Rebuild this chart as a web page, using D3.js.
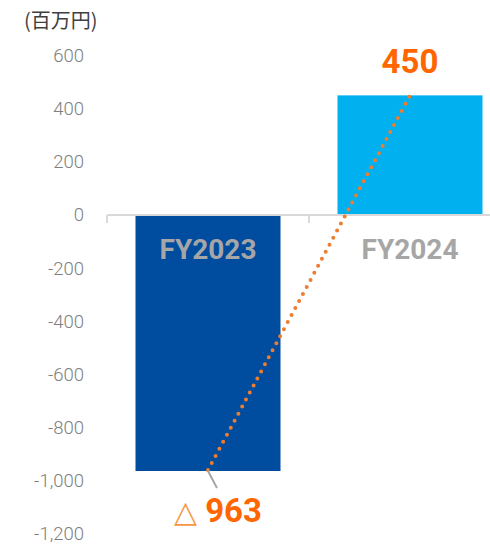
<!DOCTYPE html>
<html><head><meta charset="utf-8">
<script src="https://cdn.jsdelivr.net/npm/d3@7"></script>
<style>body{margin:0;background:#fff;overflow:hidden}</style>
</head><body>
<script>
const categories = ["FY2023", "FY2024"];
const values = [-963, 450];
const valueLabels = ["963", "450"];
const yTicks = [600, 400, 200, 0, -200, -400, -600, -800, -1000, -1200];
const unitLabel = "(百万円)";
const barColors = ["#004C9F", "#00B0EF"];

const W = 490, H = 545;
const svg = d3.select("body").append("svg").attr("width", W).attr("height", H);

const y = d3.scaleLinear().domain([-1200, 600]).range([534, 55.5]);
const x = d3.scaleBand().domain(categories).range([107, 511]).paddingInner(0).paddingOuter(0);
const barPad = 28.5;
const fmt = d => d3.format(",")(d).replace("\u2212", "-");

// y tick labels
svg.append("g").selectAll("text").data(yTicks).join("text")
  .attr("x", 84).attr("y", d => y(d)).attr("dy", "0.35em")
  .attr("text-anchor", "end")
  .attr("font-family", "Roboto, 'Liberation Sans', sans-serif")
  .attr("font-weight", 300)
  .attr("font-size", 18.5).attr("fill", "#808080")
  .text(fmt);

svg.append("text").attr("x", 24).attr("y", 28)
  .attr("font-family", "'Noto Sans CJK JP', sans-serif")
  .attr("font-size", 20).attr("fill", "#404040").text(unitLabel);

// bars
svg.append("g").selectAll("rect").data(values).join("rect")
  .attr("x", (d, i) => x(categories[i]) + barPad)
  .attr("width", x.bandwidth() - 2 * barPad)
  .attr("y", d => y(Math.max(0, d)))
  .attr("height", d => Math.abs(y(d) - y(0)))
  .attr("fill", (d, i) => barColors[i]);

// x axis
const ax = svg.append("g").attr("stroke", "#D9D9D9").attr("stroke-width", 2);
ax.append("line").attr("x1", 107).attr("x2", 511).attr("y1", y(0)).attr("y2", y(0));
const bounds = [x(categories[0]), x(categories[1]), x(categories[1]) + x.bandwidth()];
ax.selectAll(".tk").data(bounds).join("line")
  .attr("x1", d => d).attr("x2", d => d).attr("y1", y(0)).attr("y2", y(0) + 8);

// category labels
svg.append("g").selectAll("text").data(categories).join("text")
  .attr("x", d => x(d) + x.bandwidth() / 2).attr("y", 259)
  .attr("text-anchor", "middle")
  .attr("font-family", "Roboto, 'Liberation Sans', sans-serif")
  .attr("font-weight", "bold").attr("font-size", 28).attr("fill", "#A6A6A6")
  .text(d => d);

// dotted connector
const cx = i => x(categories[i]) + x.bandwidth() / 2;
svg.append("line")
  .attr("x1", cx(0)).attr("y1", y(values[0]) - 1)
  .attr("x2", cx(1)).attr("y2", y(values[1]))
  .attr("stroke", "#ED7D31").attr("stroke-width", 4)
  .attr("stroke-linecap", "round").attr("stroke-dasharray", "0 8");

// leader line
svg.append("line")
  .attr("x1", cx(0)).attr("y1", y(values[0]))
  .attr("x2", cx(0) + 9).attr("y2", y(values[0]) + 17)
  .attr("stroke", "#A6A6A6").attr("stroke-width", 2);

// value labels
const lbl1 = svg.append("text").attr("x", 218).attr("y", 522)
  .attr("text-anchor", "middle")
  .attr("font-family", "Roboto, 'Liberation Sans', sans-serif")
  .attr("font-size", 33).attr("fill", "#FF6600");
lbl1.append("tspan").attr("font-family", "'DejaVu Sans', sans-serif").attr("font-weight", "normal").attr("font-size", 30).attr("fill", "#F79646").text("△");
lbl1.append("tspan").attr("font-weight", "bold").attr("dx", 8).text(valueLabels[0]);

svg.append("text").attr("x", 410).attr("y", 73)
  .attr("text-anchor", "middle")
  .attr("font-family", "Roboto, 'Liberation Sans', sans-serif")
  .attr("font-weight", "bold").attr("font-size", 33).attr("fill", "#FF6600")
  .text(valueLabels[1]);
</script>
</body></html>
